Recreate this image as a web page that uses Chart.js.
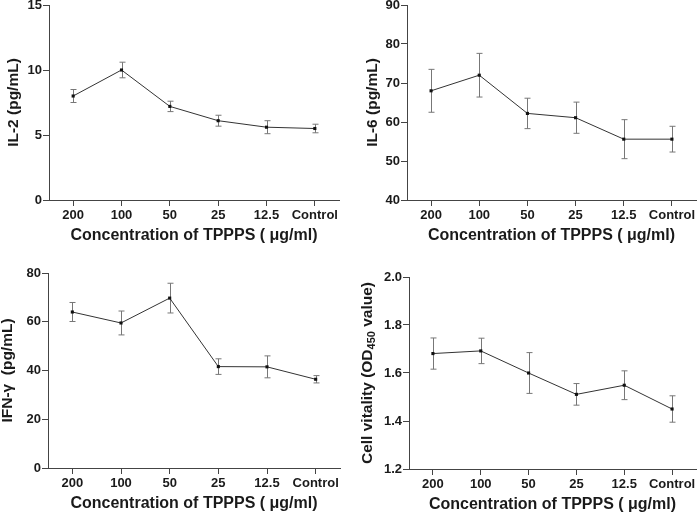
<!DOCTYPE html>
<html>
<head>
<meta charset="utf-8">
<script src="https://cdn.jsdelivr.net/npm/chart.js@4.4.1/dist/chart.umd.min.js"></script>
<style>
  body { margin: 0; background: #fff; }
  .panel { position: absolute; width: 350px; height: 257px; }
</style>
</head>
<body>
<div class="panel" style="left:0;top:0"><canvas id="il2-chart"></canvas></div>
<div class="panel" style="left:350px;top:0"><canvas id="il6-chart"></canvas></div>
<div class="panel" style="left:0;top:257px"><canvas id="ifn-chart"></canvas></div>
<div class="panel" style="left:350px;top:257px"><canvas id="od-chart"></canvas></div>
<script>
// Data (mean +/- error)
const concentrations = ['200', '100', '50', '25', '12.5', 'Control'];

const il2Mean = [8.0, 10.0, 7.2, 6.1, 5.6, 5.5];
const il2Err = [0.5, 0.6, 0.4, 0.42, 0.5, 0.33];
const il2Ticks = [0, 5, 10, 15];

const il6Mean = [68.0, 72.0, 62.2, 61.1, 55.6, 55.6];
const il6Err = [5.5, 5.6, 3.9, 4.0, 5.0, 3.3];
const il6Ticks = [40, 50, 60, 70, 80, 90];

const ifnMean = [64.0, 59.5, 69.7, 41.6, 41.5, 36.4];
const ifnErr = [3.9, 4.9, 6.1, 3.2, 4.5, 1.5];
const ifnTicks = [0, 20, 40, 60, 80];

const odMean = [1.681, 1.692, 1.600, 1.511, 1.549, 1.450];
const odErr = [0.065, 0.053, 0.085, 0.045, 0.060, 0.055];
const odTicks = [1.2, 1.4, 1.6, 1.8, 2.0];

const FONT = "'Liberation Sans', Arial, sans-serif";
const TEXT = '#1a1a1a';
const AXIS = '#444';

// error bars drawn under the line through the chart's own scales
const errorBars = {
    id: 'errorBars',
    beforeDatasetsDraw(chart, args, opts) {
        const { ctx, scales: { x, y } } = chart;
        const means = chart.data.datasets[0].data;
        ctx.save();
        ctx.strokeStyle = opts.color;
        ctx.lineWidth = 1;
        means.forEach((m, i) => {
            const px = Math.round(x.getPixelForValue(i)) + 0.5;
            const top = y.getPixelForValue(m + opts.errors[i]);
            const bot = y.getPixelForValue(m - opts.errors[i]);
            ctx.beginPath();
            ctx.moveTo(px, top); ctx.lineTo(px, bot);
            ctx.moveTo(px - 3, top); ctx.lineTo(px + 3, top);
            ctx.moveTo(px - 3, bot); ctx.lineTo(px + 3, bot);
            ctx.stroke();
        });
        ctx.restore();
    }
};

// y title with subscript (OD450) - drawn by hand
const subTitle = {
    id: 'subTitle',
    afterDraw(chart, args, opts) {
        if (!opts.parts) return;
        const { ctx, chartArea } = chart;
        const big = `bold ${opts.size}px ${FONT}`;
        const small = `bold ${opts.subSize}px ${FONT}`;
        ctx.save();
        let total = 0;
        opts.parts.forEach(p => {
            ctx.font = p.sub ? small : big;
            p.w = ctx.measureText(p.text).width;
            total += p.w;
        });
        ctx.translate(opts.x, (chartArea.top + chartArea.bottom) / 2);
        ctx.rotate(-Math.PI / 2);
        ctx.fillStyle = TEXT;
        ctx.textBaseline = 'middle';
        let cx = -total / 2;
        opts.parts.forEach(p => {
            ctx.font = p.sub ? small : big;
            ctx.fillText(p.text, cx, p.sub ? 4 : 0);
            cx += p.w;
        });
        ctx.restore();
    }
};

function makePanel(id, cfg) {
    const canvas = document.getElementById(id);
    const step = cfg.ticks[1] - cfg.ticks[0];
    return new Chart(canvas, {
        type: 'line',
        data: {
            labels: concentrations,
            datasets: [{
                data: cfg.mean,
                borderColor: '#333',
                borderWidth: 1,
                pointStyle: 'rect',
                pointRadius: 2.2,
                pointBackgroundColor: '#111',
                pointBorderColor: '#111',
                pointBorderWidth: 0,
                tension: 0
            }]
        },
        options: {
            responsive: true,
            maintainAspectRatio: false,
            animation: false,
            layout: { padding: { left: 0, top: cfg.top, right: cfg.right, bottom: 0 } },
            plugins: {
                legend: { display: false },
                tooltip: { enabled: false },
                errorBars: { errors: cfg.err, color: '#777' },
                subTitle: cfg.subTitle || {}
            },
            scales: {
                x: {
                    offset: true,
                    grid: { drawOnChartArea: false, drawTicks: true, tickLength: 6, color: AXIS },
                    border: { display: true, color: AXIS, width: 1 },
                    ticks: {
                        color: TEXT,
                        padding: 2,
                        autoSkip: false,
                        maxRotation: 0,
                        font: { family: FONT, size: 13, weight: 'bold' }
                    },
                    title: {
                        display: true,
                        text: 'Concentration of TPPPS ( \u03bcg/ml)',
                        color: TEXT,
                        padding: { top: 0, bottom: cfg.xTitlePad },
                        font: { family: FONT, size: 16, weight: 'bold' }
                    },
                    afterFit(scale) {
                        scale.height = cfg.xHeight;
                        scale.paddingLeft = 0;
                        scale.paddingRight = 0;
                    }
                },
                y: {
                    min: cfg.ticks[0],
                    max: cfg.ticks[cfg.ticks.length - 1],
                    grid: { drawOnChartArea: false, drawTicks: true, tickLength: 6, color: AXIS },
                    border: { display: true, color: AXIS, width: 1 },
                    ticks: {
                        stepSize: step,
                        color: TEXT,
                        padding: 1,
                        font: { family: FONT, size: 13, weight: 'bold' },
                        callback: v => cfg.decimals ? Number(v).toFixed(cfg.decimals) : v
                    },
                    title: {
                        display: !!cfg.yTitle,
                        text: cfg.yTitle || '',
                        color: TEXT,
                        padding: { top: cfg.yTitlePad, bottom: 0 },
                        font: { family: FONT, size: 15.5, weight: 'bold' }
                    },
                    afterFit(scale) {
                        scale.width = cfg.yWidth;
                        scale.paddingTop = 0;
                        scale.paddingBottom = 0;
                    }
                }
            }
        },
        plugins: [errorBars, subTitle]
    });
}

document.addEventListener('DOMContentLoaded', () => {
    makePanel('il2-chart', {
        mean: il2Mean, err: il2Err, ticks: il2Ticks,
        yTitle: 'IL-2 (pg/mL)', yTitlePad: 4, yWidth: 49,
        top: 5, right: 11, xHeight: 57, xTitlePad: 12
    });
    makePanel('il6-chart', {
        mean: il6Mean, err: il6Err, ticks: il6Ticks,
        yTitle: 'IL-6 (pg/mL)', yTitlePad: 13, yWidth: 57,
        top: 5, right: 2, xHeight: 57, xTitlePad: 12
    });
    makePanel('ifn-chart', {
        mean: ifnMean, err: ifnErr, ticks: ifnTicks,
        yTitle: 'IFN-\u03b3  (pg/mL)', yTitlePad: -2, yWidth: 48,
        top: 16, right: 10, xHeight: 46, xTitlePad: 1
    });
    makePanel('od-chart', {
        mean: odMean, err: odErr, ticks: odTicks, decimals: 1,
        yTitle: null, yWidth: 59,
        top: 20, right: 2, xHeight: 45, xTitlePad: 0,
        subTitle: {
            x: 18, size: 15.5, subSize: 11,
            parts: [
                { text: 'Cell vitality (OD' },
                { text: '450', sub: true },
                { text: ' value)' }
            ]
        }
    });
});
</script>
</body>
</html>
